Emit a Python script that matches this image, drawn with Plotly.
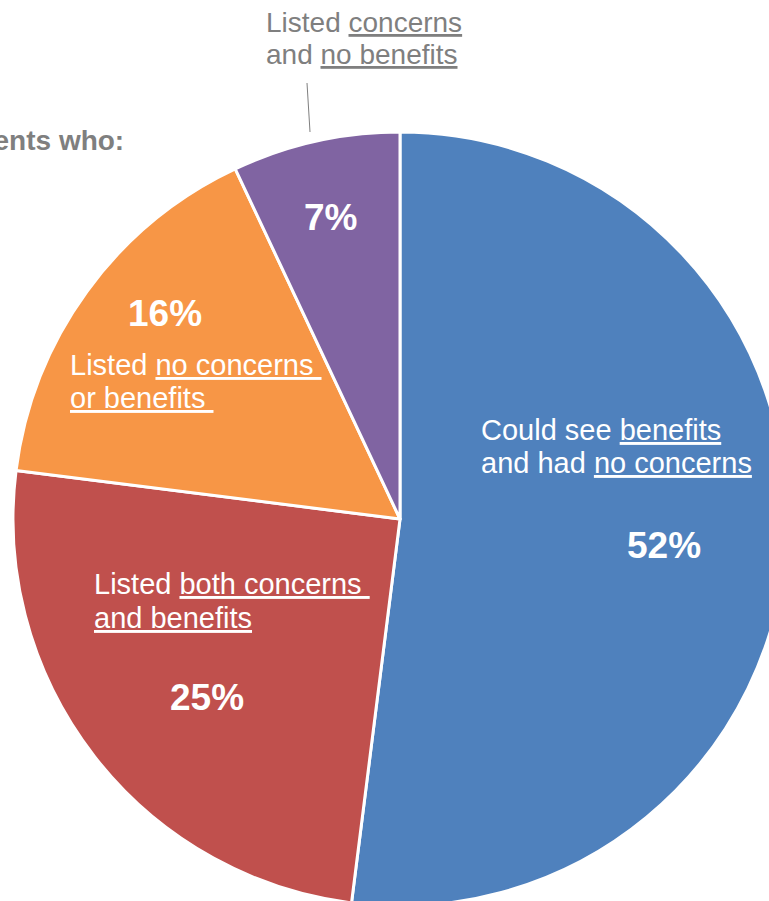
import plotly.graph_objects as go

# Survey responses: share of respondents in each group
categories = [
    "Could see benefits and had no concerns",
    "Listed both concerns and benefits",
    "Listed no concerns or benefits",
    "Listed concerns and no benefits",
]
shares = [52, 25, 16, 7]
colors = ["#4F81BD", "#C0504D", "#F79646", "#8064A2"]

W, H = 800, 910


def px(x):
    return x / W


def py(y):
    return 1 - y / H


def u(s):
    return f'<span style="text-decoration:underline">{s}</span>'


fig = go.Figure(
    go.Pie(
        labels=categories,
        values=shares,
        sort=False,
        direction="clockwise",
        rotation=0,
        marker=dict(colors=colors, line=dict(color="white", width=3)),
        textinfo="none",
        hoverinfo="label+percent",
        domain=dict(x=[px(13), px(787)], y=[py(906), py(132)]),
        showlegend=False,
    )
)

FONT = "Liberation Sans, Arial, sans-serif"
grey = "#7F7F7F"
body = dict(family=FONT, size=29, color="white")
bold = dict(family=FONT, size=37, color="white")
grey_font = dict(family=FONT, size=28, color=grey)

annotations = []


def line(x, y, text, font, anchor="left"):
    annotations.append(dict(x=px(x), y=py(y), xanchor=anchor, yanchor="middle",
                            text=text, font=font, showarrow=False,
                            borderpad=0, borderwidth=0))


# title (runs off the left edge)
line(124, 140, "<b>Proportion of respondents who:</b>", grey_font, anchor="right")

# outside label for the smallest slice
line(266, 22, f"Listed {u('concerns')}", grey_font)
line(266, 54, f"and {u('no benefits')}", grey_font)

# in-slice descriptions
line(481, 430, f"Could see {u('benefits')}", body)
line(481, 463, f"and had {u('no concerns')}", body)
line(94, 584, f"Listed {u('both concerns ')}", body)
line(94, 618, u("and benefits"), body)
line(70, 365, f"Listed {u('no concerns ')}", body)
line(70, 398, u("or benefits "), body)

# percentage labels, one per slice
pct_pos = [(664, 545), (207, 697), (165, 313), (330, 217)]
for v, (x, y) in zip(shares, pct_pos):
    line(x, y, f"<b>{v}%</b>", bold, anchor="center")

fig.update_layout(
    width=W,
    height=H,
    margin=dict(l=0, r=0, t=0, b=0),
    paper_bgcolor="white",
    plot_bgcolor="white",
    annotations=annotations,
    shapes=[dict(type="line", xref="paper", yref="paper",
                 x0=px(307), y0=py(83), x1=px(310), y1=py(132),
                 line=dict(color=grey, width=1))],
)

fig.write_html(
    "out.html",
    post_script="document.documentElement.style.overflow='hidden';"
                "document.body.style.overflow='hidden';document.body.style.margin='0';",
)
